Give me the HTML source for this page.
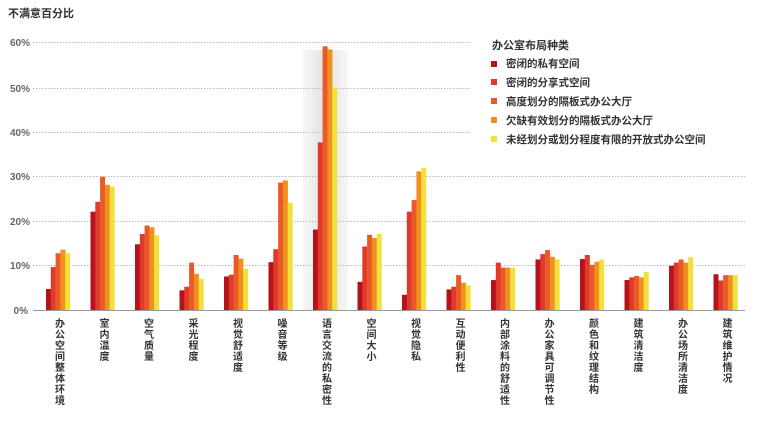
<!DOCTYPE html>
<html><head><meta charset="utf-8"><style>
body{margin:0;background:#fff;}
svg{display:block;font-family:"Liberation Sans","Noto Sans CJK SC",sans-serif;}
</style></head><body>
<svg width="775" height="431" viewBox="0 0 775 431">
<defs>
<linearGradient id="sh" x1="0" x2="1" y1="0" y2="0">
<stop offset="0" stop-color="#e6e6e6" stop-opacity="0.3"/>
<stop offset="0.5" stop-color="#e0e0e0"/>
<stop offset="1" stop-color="#e6e6e6" stop-opacity="0.3"/>
</linearGradient>
</defs>
<text x="8" y="17" font-size="11" font-weight="bold" fill="#333">不满意百分比</text>
<rect x="303" y="50" width="45" height="260" fill="url(#sh)"/>
<g stroke="#bbb" stroke-width="1" stroke-dasharray="1.5,1.5">
<line x1="33" x2="470" y1="42.5" y2="42.5"/>
<line x1="33" x2="470" y1="88.5" y2="88.5"/>
<line x1="33" x2="470" y1="132.5" y2="132.5"/>
<line x1="33" x2="745" y1="176.5" y2="176.5"/>
<line x1="33" x2="745" y1="221.5" y2="221.5"/>
<line x1="33" x2="745" y1="265.5" y2="265.5"/>
</g>
<g font-size="10" font-weight="bold" fill="#666" text-anchor="end">
<text x="30" y="46">60%</text><text x="30" y="92">50%</text><text x="30" y="136">40%</text>
<text x="30" y="180">30%</text><text x="30" y="225">20%</text><text x="30" y="269">10%</text><text x="28" y="314">0%</text>
</g>
<g transform="translate(0,310) scale(1,-4.47)">
<g fill="#b5121b">
<rect x="46" width="5" height="4.7"/><rect x="90.5" width="5" height="22"/><rect x="135" width="5" height="14.7"/><rect x="179.5" width="5" height="4.4"/>
<rect x="224" width="5" height="7.5"/><rect x="268.5" width="5" height="10.7"/><rect x="313" width="5" height="18"/><rect x="357.5" width="5" height="6.3"/>
<rect x="402" width="5" height="3.4"/><rect x="446.5" width="5" height="4.6"/><rect x="491" width="5" height="6.7"/><rect x="535.5" width="5" height="11.3"/>
<rect x="580" width="5" height="11.4"/><rect x="624.5" width="5" height="6.7"/><rect x="669" width="5" height="9.9"/><rect x="713.5" width="5" height="8"/>
</g>
<g fill="#e03a2a">
<rect x="50.8" width="5" height="9.6"/><rect x="95.3" width="5" height="24.2"/><rect x="139.8" width="5" height="17"/><rect x="184.3" width="5" height="5.2"/>
<rect x="228.8" width="5" height="7.9"/><rect x="273.3" width="5" height="13.6"/><rect x="317.8" width="5" height="37.5"/><rect x="362.3" width="5" height="14.2"/>
<rect x="406.8" width="5" height="22"/><rect x="451.3" width="5" height="5.2"/><rect x="495.8" width="5" height="10.6"/><rect x="540.3" width="5" height="12.5"/>
<rect x="584.8" width="5" height="12.3"/><rect x="629.3" width="5" height="7.3"/><rect x="673.8" width="5" height="10.6"/><rect x="718.3" width="5" height="6.6"/>
</g>
<g fill="#ea5a28">
<rect x="55.6" width="5" height="12.7"/><rect x="100.1" width="5" height="29.8"/><rect x="144.6" width="5" height="18.9"/><rect x="189.1" width="5" height="10.6"/>
<rect x="233.6" width="5" height="12.3"/><rect x="278.1" width="5" height="28.5"/><rect x="322.6" width="5" height="59"/><rect x="367.1" width="5" height="16.8"/>
<rect x="411.6" width="5" height="24.6"/><rect x="456.1" width="5" height="7.8"/><rect x="500.6" width="5" height="9.5"/><rect x="545.1" width="5" height="13.4"/>
<rect x="589.6" width="5" height="10.1"/><rect x="634.1" width="5" height="7.6"/><rect x="678.6" width="5" height="11.3"/><rect x="723.1" width="5" height="7.8"/>
</g>
<g fill="#f0901e">
<rect x="60.4" width="5" height="13.5"/><rect x="104.9" width="5" height="28"/><rect x="149.4" width="5" height="18.5"/><rect x="193.9" width="5" height="8.1"/>
<rect x="238.4" width="5" height="11.5"/><rect x="282.9" width="5" height="29"/><rect x="327.4" width="5" height="58.3"/><rect x="371.9" width="5" height="16.1"/>
<rect x="416.4" width="5" height="31"/><rect x="460.9" width="5" height="6.1"/><rect x="505.4" width="5" height="9.5"/><rect x="549.9" width="5" height="11.9"/>
<rect x="594.4" width="5" height="10.8"/><rect x="638.9" width="5" height="7.3"/><rect x="683.4" width="5" height="10.6"/><rect x="727.9" width="5" height="7.8"/>
</g>
<g fill="#f2e03c">
<rect x="65.2" width="5" height="12.7"/><rect x="109.7" width="5" height="27.6"/><rect x="154.2" width="5" height="16.7"/><rect x="198.7" width="5" height="7"/>
<rect x="243.2" width="5" height="9.2"/><rect x="287.7" width="5" height="24"/><rect x="332.2" width="5" height="49.8"/><rect x="376.7" width="5" height="17"/>
<rect x="421.2" width="5" height="31.8"/><rect x="465.7" width="5" height="5.5"/><rect x="510.2" width="5" height="9.5"/><rect x="554.7" width="5" height="11.3"/>
<rect x="599.2" width="5" height="11.3"/><rect x="643.7" width="5" height="8.5"/><rect x="688.2" width="5" height="11.8"/><rect x="732.7" width="5" height="7.8"/>
</g>
</g>
<line x1="33" x2="745" y1="310.5" y2="310.5" stroke="#999" stroke-width="1"/>
<g font-size="10.5" font-weight="bold" fill="#333">
<text x="492" y="49" font-size="11">办公室布局种类</text>
<rect x="491" y="61" width="6" height="6" fill="#b5121b"/><text x="506" y="67">密闭的私有空间</text>
<rect x="491" y="79" width="6" height="6" fill="#e03a2a"/><text x="506" y="86">密闭的分享式空间</text>
<rect x="491" y="98" width="6" height="6" fill="#ea5a28"/><text x="506" y="105">高度划分的隔板式办公大厅</text>
<rect x="491" y="117" width="6" height="6" fill="#f0901e"/><text x="506" y="124">欠缺有效划分的隔板式办公大厅</text>
<rect x="491" y="136" width="6" height="6" fill="#f2e03c"/><text x="506" y="143">未经划分或划分程度有限的开放式办公空间</text>
</g>
<g font-size="10" font-weight="bold" fill="#333" text-anchor="start" style="writing-mode:vertical-rl;letter-spacing:1px">
<text x="58" y="318">办公空间整体环境</text>
<text x="102.5" y="318">室内温度</text>
<text x="147" y="318">空气质量</text>
<text x="191.5" y="318">采光程度</text>
<text x="236" y="318">视觉舒适度</text>
<text x="280.5" y="318">噪音等级</text>
<text x="325" y="318">语言交流的私密性</text>
<text x="369.5" y="318">空间大小</text>
<text x="414" y="318">视觉隐私</text>
<text x="458.5" y="318">互动便利性</text>
<text x="503" y="318">内部涂料的舒适性</text>
<text x="547.5" y="318">办公家具可调节性</text>
<text x="592" y="318">颜色和纹理结构</text>
<text x="636.5" y="318">建筑清洁度</text>
<text x="681" y="318">办公场所清洁度</text>
<text x="725.5" y="318">建筑维护情况</text>
</g>
</svg>
</body></html>
